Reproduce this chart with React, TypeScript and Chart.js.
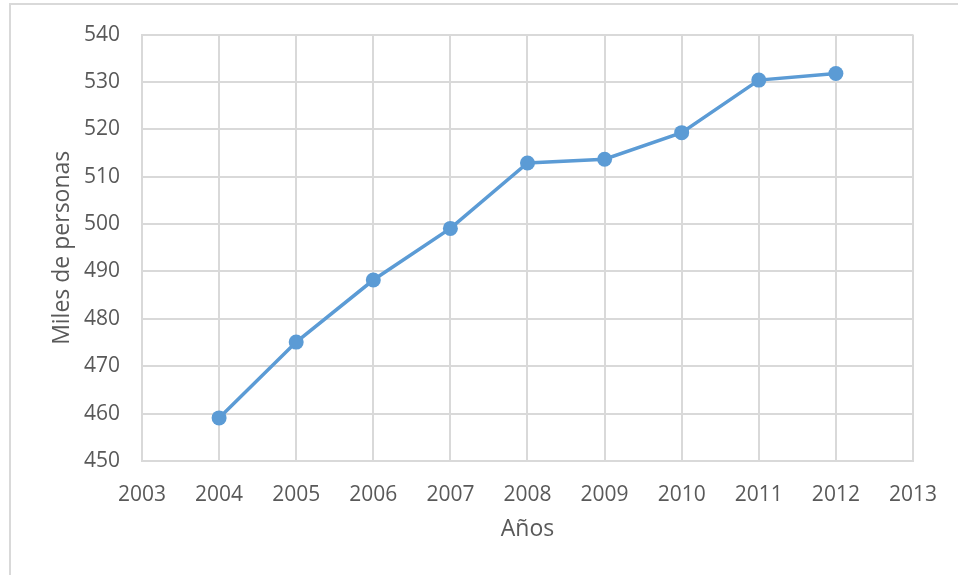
import React, { useEffect, useRef } from "react";
import { Chart, registerables } from "chart.js";

Chart.register(...registerables);

const years = [2004, 2005, 2006, 2007, 2008, 2009, 2010, 2011, 2012];
const values = [459.1, 475.1, 488.2, 499.1, 512.9, 513.7, 519.3, 530.4, 531.8];
const xTitle = "Años";
const yTitle = "Miles de personas";

const GRID = "#d9d9d9";
const TEXT = "#595959";
const LINE = "#5b9bd5";
const FONT = "'Open Sans', sans-serif";

const framePlugin = {
  id: "frame",
  beforeDraw(chart: any) {
    const ctx = chart.ctx;
    ctx.save();
    ctx.strokeStyle = GRID;
    ctx.lineWidth = 2;
    ctx.beginPath();
    ctx.moveTo(10, chart.height);
    ctx.lineTo(10, 4);
    ctx.lineTo(chart.width, 4);
    ctx.stroke();
    ctx.restore();
  },
};

export default function App() {
  const ref = useRef<HTMLCanvasElement | null>(null);
  useEffect(() => {
    if (!ref.current) return;
    const chart = new Chart(ref.current, {
      type: "line",
      data: {
        datasets: [
          {
            data: years.map((y, i) => ({ x: y, y: values[i] })),
            borderColor: LINE,
            backgroundColor: LINE,
            borderWidth: 3.5,
            pointRadius: 7.5,
            pointHoverRadius: 7.5,
            pointBackgroundColor: LINE,
            pointBorderColor: LINE,
            pointBorderWidth: 0,
            tension: 0,
          },
        ],
      },
      options: {
        animation: false,
        responsive: false,
        maintainAspectRatio: false,
        layout: { padding: { left: 10, top: 33, right: 42, bottom: 0 } },
        plugins: { legend: { display: false }, tooltip: { enabled: false } },
        scales: {
          x: {
            type: "linear",
            min: 2003,
            max: 2013,
            afterFit(scale: any) {
              scale.height = 114;
            },
            ticks: {
              stepSize: 1,
              color: TEXT,
              padding: 21,
              maxRotation: 0,
              font: { family: FONT, size: 21 },
              callback: (v: any) => String(v),
            },
            grid: { color: GRID, lineWidth: 2, drawTicks: false },
            border: { color: GRID, width: 2 },
            title: {
              display: true,
              text: xTitle,
              color: TEXT,
              font: { family: FONT, size: 23 },
              padding: { top: 0, bottom: 32 },
            },
          },
          y: {
            min: 450,
            max: 540,
            afterFit(scale: any) {
              scale.width = 132;
            },
            ticks: {
              stepSize: 10,
              color: TEXT,
              padding: 22,
              font: { family: FONT, size: 21 },
            },
            grid: { color: GRID, lineWidth: 2, drawTicks: false },
            border: { color: GRID, width: 2 },
            title: {
              display: true,
              text: yTitle,
              color: TEXT,
              font: { family: FONT, size: 23 },
              padding: { top: 39, bottom: 0 },
            },
          },
        },
      },
      plugins: [framePlugin],
    });
    return () => chart.destroy();
  }, []);
  return (
    <div style={{ position: "fixed", left: 0, top: 0, width: 958, height: 575, background: "#fff" }}>
      <canvas ref={ref} width={958} height={575} style={{ display: "block", width: 958, height: 575 }} />
    </div>
  );
}
